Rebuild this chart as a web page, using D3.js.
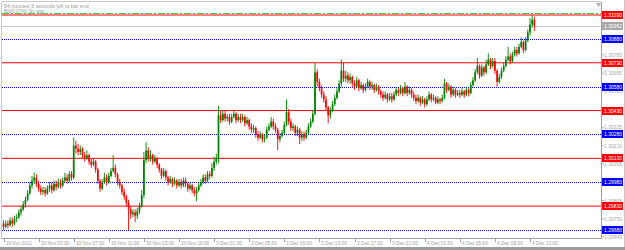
<!DOCTYPE html>
<html><head><meta charset="utf-8">
<script src="https://cdn.jsdelivr.net/npm/d3@7"></script>
<style>html,body{margin:0;padding:0;background:#fff;}svg{display:block;font-family:"Liberation Sans","DejaVu Sans",sans-serif;}</style>
</head><body><svg id="c" width="625" height="250"></svg>
<script>
// ---- data ----
const timeLabels = ["29 Nov 2012","30 Nov 03:00","30 Nov 07:00","30 Nov 11:00","30 Nov 15:00","30 Nov 19:00","3 Dec 01:00","3 Dec 05:00","3 Dec 09:00","3 Dec 13:00","3 Dec 17:00","3 Dec 21:00","4 Dec 01:00","4 Dec 05:00","4 Dec 09:00","4 Dec 13:00"];
const barsPerLabel = 16;
const opens = [
1.2972,1.2970,1.2972,1.2971,1.2974,1.2972,1.2975,1.2976,1.2979,1.2981,1.2984,1.2987,1.2991,1.2996,1.2999,1.3001,
1.2997,1.2994,1.2992,1.2993,1.2991,1.2994,1.2996,1.2993,1.2997,1.2995,1.2998,1.2996,1.2999,1.3001,1.2999,1.3003,
1.3001,1.3021,1.3019,1.3017,1.3019,1.3015,1.3013,1.3015,1.3011,1.3009,1.3011,1.3006,1.2999,1.2994,1.2998,1.3001,
1.2998,1.3002,1.3005,1.3007,1.3003,1.2998,1.2996,1.2992,1.2989,1.2985,1.2981,1.2978,1.2979,1.2977,1.2980,1.2983,
1.2990,1.3012,1.3018,1.3013,1.3015,1.3011,1.3013,1.3009,1.3006,1.3002,1.3005,1.3001,1.2998,1.3000,1.2997,1.2999,
1.2996,1.2998,1.2996,1.2999,1.2997,1.2994,1.2996,1.2993,1.2991,1.2993,1.2996,1.2998,1.3001,1.2999,1.3003,1.3002,
1.3007,1.3011,1.3013,1.3040,1.3037,1.3041,1.3038,1.3039,1.3036,1.3039,1.3041,1.3037,1.3039,1.3037,1.3039,1.3035,
1.3037,1.3033,1.3031,1.3032,1.3028,1.3026,1.3028,1.3025,1.3026,1.3031,1.3033,1.3036,1.3033,1.3031,1.3025,1.3027,
1.3029,1.3034,1.3042,1.3036,1.3032,1.3033,1.3029,1.3031,1.3026,1.3028,1.3026,1.3029,1.3033,1.3036,1.3041,1.3067,
1.3061,1.3057,1.3053,1.3050,1.3045,1.3040,1.3043,1.3047,1.3051,1.3055,1.3060,1.3068,1.3063,1.3065,1.3062,1.3064,
1.3060,1.3058,1.3062,1.3057,1.3059,1.3056,1.3058,1.3061,1.3058,1.3059,1.3056,1.3058,1.3055,1.3053,1.3051,1.3053,
1.3050,1.3052,1.3050,1.3053,1.3056,1.3054,1.3057,1.3054,1.3058,1.3054,1.3056,1.3053,1.3051,1.3049,1.3051,1.3048,
1.3050,1.3047,1.3050,1.3053,1.3050,1.3051,1.3048,1.3050,1.3049,1.3051,1.3060,1.3056,1.3058,1.3053,1.3056,1.3053,
1.3054,1.3053,1.3055,1.3053,1.3056,1.3054,1.3059,1.3062,1.3067,1.3071,1.3065,1.3070,1.3067,1.3072,1.3075,1.3071,
1.3074,1.3068,1.3061,1.3064,1.3068,1.3071,1.3075,1.3077,1.3074,1.3078,1.3081,1.3079,1.3083,1.3086,1.3081,1.3087,
1.3092,1.3097,1.3100];
const highs = [
1.2974,1.2974,1.2974,1.2976,1.2976,1.2977,1.2978,1.2981,1.2983,1.2986,1.2989,1.2993,1.2998,1.3002,1.3004,1.3003,
1.2999,1.2996,1.2995,1.2995,1.2996,1.2998,1.2998,1.2999,1.2999,1.3000,1.3000,1.3001,1.3004,1.3003,1.3005,1.3005,
1.3026,1.3024,1.3022,1.3021,1.3020,1.3017,1.3018,1.3016,1.3013,1.3013,1.3012,1.3007,1.3000,1.3000,1.3004,1.3003,
1.3004,1.3007,1.3015,1.3009,1.3004,1.3000,1.2997,1.2994,1.2990,1.2987,1.2983,1.2981,1.2981,1.2982,1.2985,1.2993,
1.3017,1.3023,1.3020,1.3018,1.3016,1.3015,1.3014,1.3010,1.3007,1.3007,1.3006,1.3002,1.3002,1.3001,1.3001,1.3000,
1.3000,1.3000,1.3001,1.3001,1.2998,1.2998,1.2997,1.2995,1.2995,1.2998,1.3000,1.3003,1.3003,1.3005,1.3005,1.3010,
1.3014,1.3016,1.3046,1.3043,1.3043,1.3043,1.3041,1.3041,1.3041,1.3043,1.3042,1.3041,1.3041,1.3041,1.3040,1.3039,
1.3038,1.3035,1.3034,1.3033,1.3030,1.3030,1.3029,1.3028,1.3033,1.3035,1.3039,1.3038,1.3035,1.3032,1.3029,1.3031,
1.3036,1.3050,1.3044,1.3038,1.3035,1.3034,1.3033,1.3032,1.3030,1.3030,1.3031,1.3035,1.3038,1.3043,1.3073,1.3069,
1.3063,1.3059,1.3055,1.3052,1.3046,1.3045,1.3049,1.3053,1.3057,1.3062,1.3075,1.3073,1.3068,1.3067,1.3066,1.3065,
1.3062,1.3064,1.3063,1.3061,1.3060,1.3060,1.3063,1.3062,1.3061,1.3060,1.3060,1.3059,1.3056,1.3055,1.3055,1.3054,
1.3054,1.3054,1.3055,1.3058,1.3057,1.3059,1.3058,1.3061,1.3059,1.3058,1.3057,1.3055,1.3053,1.3053,1.3052,1.3052,
1.3051,1.3052,1.3055,1.3054,1.3053,1.3052,1.3052,1.3051,1.3053,1.3063,1.3061,1.3060,1.3059,1.3058,1.3057,1.3056,
1.3056,1.3057,1.3056,1.3058,1.3057,1.3061,1.3064,1.3069,1.3076,1.3072,1.3072,1.3071,1.3075,1.3079,1.3076,1.3076,
1.3076,1.3069,1.3066,1.3070,1.3073,1.3077,1.3083,1.3079,1.3080,1.3083,1.3083,1.3085,1.3089,1.3087,1.3089,1.3094,
1.3101,1.3103,1.3102];
const lows = [
1.2968,1.2969,1.2969,1.2970,1.2970,1.2971,1.2973,1.2975,1.2977,1.2980,1.2982,1.2986,1.2990,1.2994,1.2997,1.2995,
1.2992,1.2990,1.2990,1.2989,1.2990,1.2992,1.2991,1.2992,1.2993,1.2994,1.2994,1.2995,1.2998,1.2997,1.2998,1.2999,
1.3000,1.3016,1.3015,1.3015,1.3013,1.3011,1.3012,1.3009,1.3007,1.3008,1.3004,1.2997,1.2992,1.2993,1.2997,1.2996,
1.2997,1.3001,1.3004,1.3001,1.2996,1.2994,1.2990,1.2987,1.2983,1.2968,1.2975,1.2976,1.2973,1.2975,1.2978,1.2982,
1.2988,1.3010,1.3011,1.3011,1.3009,1.3010,1.3007,1.3004,1.3000,1.3001,1.2999,1.2996,1.2997,1.2995,1.2996,1.2994,
1.2995,1.2994,1.2995,1.2995,1.2992,1.2993,1.2991,1.2989,1.2986,1.2992,1.2995,1.2997,1.2997,1.2998,1.3000,1.3001,
1.3005,1.3009,1.3010,1.3035,1.3036,1.3036,1.3036,1.3034,1.3035,1.3038,1.3035,1.3036,1.3035,1.3036,1.3033,1.3034,
1.3031,1.3029,1.3029,1.3026,1.3024,1.3025,1.3023,1.3023,1.3025,1.3030,1.3032,1.3031,1.3029,1.3018,1.3023,1.3026,
1.3028,1.3033,1.3034,1.3030,1.3030,1.3027,1.3027,1.3022,1.3024,1.3024,1.3025,1.3028,1.3032,1.3035,1.3040,1.3058,
1.3055,1.3051,1.3048,1.3043,1.3035,1.3038,1.3042,1.3046,1.3050,1.3054,1.3058,1.3061,1.3061,1.3060,1.3060,1.3058,
1.3056,1.3057,1.3055,1.3056,1.3054,1.3055,1.3057,1.3056,1.3056,1.3054,1.3055,1.3053,1.3051,1.3049,1.3050,1.3048,
1.3049,1.3048,1.3049,1.3052,1.3052,1.3053,1.3052,1.3053,1.3052,1.3053,1.3051,1.3049,1.3047,1.3048,1.3046,1.3047,
1.3045,1.3046,1.3049,1.3048,1.3049,1.3047,1.3047,1.3047,1.3048,1.3050,1.3054,1.3055,1.3051,1.3052,1.3051,1.3052,
1.3051,1.3052,1.3051,1.3052,1.3052,1.3053,1.3058,1.3061,1.3066,1.3063,1.3064,1.3065,1.3066,1.3071,1.3069,1.3070,
1.3066,1.3058,1.3060,1.3063,1.3067,1.3070,1.3074,1.3072,1.3073,1.3077,1.3077,1.3078,1.3082,1.3079,1.3080,1.3086,
1.3090,1.3095,1.3093];
const closes = [
1.2970,1.2972,1.2971,1.2974,1.2972,1.2975,1.2976,1.2979,1.2981,1.2984,1.2987,1.2991,1.2996,1.2999,1.3001,1.2997,
1.2994,1.2992,1.2993,1.2991,1.2994,1.2996,1.2993,1.2997,1.2995,1.2998,1.2996,1.2999,1.3001,1.2999,1.3003,1.3001,
1.3021,1.3019,1.3017,1.3019,1.3015,1.3013,1.3015,1.3011,1.3009,1.3011,1.3006,1.2999,1.2994,1.2998,1.3001,1.2998,
1.3002,1.3005,1.3007,1.3003,1.2998,1.2996,1.2992,1.2989,1.2985,1.2981,1.2978,1.2979,1.2977,1.2980,1.2983,1.2990,
1.3012,1.3018,1.3013,1.3015,1.3011,1.3013,1.3009,1.3006,1.3002,1.3005,1.3001,1.2998,1.3000,1.2997,1.2999,1.2996,
1.2998,1.2996,1.2999,1.2997,1.2994,1.2996,1.2993,1.2991,1.2993,1.2996,1.2998,1.3001,1.2999,1.3003,1.3002,1.3007,
1.3011,1.3013,1.3040,1.3037,1.3041,1.3038,1.3039,1.3036,1.3039,1.3041,1.3037,1.3039,1.3037,1.3039,1.3035,1.3037,
1.3033,1.3031,1.3032,1.3028,1.3026,1.3028,1.3025,1.3026,1.3031,1.3033,1.3036,1.3033,1.3031,1.3025,1.3027,1.3029,
1.3034,1.3042,1.3036,1.3032,1.3033,1.3029,1.3031,1.3026,1.3028,1.3026,1.3029,1.3033,1.3036,1.3041,1.3067,1.3061,
1.3057,1.3053,1.3050,1.3045,1.3040,1.3043,1.3047,1.3051,1.3055,1.3060,1.3068,1.3063,1.3065,1.3062,1.3064,1.3060,
1.3058,1.3062,1.3057,1.3059,1.3056,1.3058,1.3061,1.3058,1.3059,1.3056,1.3058,1.3055,1.3053,1.3051,1.3053,1.3050,
1.3052,1.3050,1.3053,1.3056,1.3054,1.3057,1.3054,1.3058,1.3054,1.3056,1.3053,1.3051,1.3049,1.3051,1.3048,1.3050,
1.3047,1.3050,1.3053,1.3050,1.3051,1.3048,1.3050,1.3049,1.3051,1.3060,1.3056,1.3058,1.3053,1.3056,1.3053,1.3054,
1.3053,1.3055,1.3053,1.3056,1.3054,1.3059,1.3062,1.3067,1.3071,1.3065,1.3070,1.3067,1.3072,1.3075,1.3071,1.3074,
1.3068,1.3061,1.3064,1.3068,1.3071,1.3075,1.3077,1.3074,1.3078,1.3081,1.3079,1.3083,1.3086,1.3081,1.3087,1.3092,
1.3097,1.3100,1.30962];
const redLevels = [1.31030, 1.30730, 1.30430, 1.30130, 1.29830];
const blueLevels = [1.30880, 1.30580, 1.30280, 1.29980, 1.29680];
const greenLevel = 1.31043;
const bidPrice = 1.30962;
const priceTicks = [1.30780, 1.30665, 1.30555, 1.30325, 1.30210, 1.30095, 1.29865, 1.29750, 1.29640];
const infoLines = ["54 minutes 5 seconds left to bar end", "Bid(0.07%) 3m ago"];

// ---- drawing ----
const svg = d3.select("#c");
const W = 625, H = 250;
const plotL = 2, plotR = 601, plotT = 2, plotB = 238;
const y = d3.scaleLinear().domain([1.29680, 1.31030]).range([230, 15]);
const x = d3.scaleLinear().domain([0, 240]).range([3.5, 530]);
const charW = 2.35; // compressed text width per character

svg.append("rect").attr("width", W).attr("height", H).attr("fill", "#fff");
const clip = svg.append("defs").append("clipPath").attr("id", "pc");
clip.append("rect").attr("x", plotL).attr("y", plotT).attr("width", plotR - plotL).attr("height", plotB - plotT);

const g = svg.append("g").attr("clip-path", "url(#pc)");

// level lines
g.selectAll(".red").data(redLevels).join("line")
  .attr("x1", plotL).attr("x2", plotR).attr("y1", d => y(d)).attr("y2", d => y(d))
  .attr("stroke", "#ff0000").attr("stroke-width", 1);
g.selectAll(".blue").data(blueLevels).join("line")
  .attr("x1", plotL).attr("x2", plotR).attr("y1", d => Math.round(y(d)) + 0.5).attr("y2", d => Math.round(y(d)) + 0.5)
  .attr("stroke", "#0000ff").attr("stroke-width", 1).attr("stroke-dasharray", "1,1");
g.append("line").attr("x1", plotL).attr("x2", plotR).attr("y1", Math.round(y(greenLevel)) + 0.5).attr("y2", Math.round(y(greenLevel)) + 0.5)
  .attr("stroke", "#3cd23c").attr("stroke-width", 1).attr("stroke-dasharray", "7,2,2,2");
g.append("line").attr("x1", plotL).attr("x2", plotR).attr("y1", Math.round(y(bidPrice)) + 0.5).attr("y2", Math.round(y(bidPrice)) + 0.5)
  .attr("stroke", "#c8c8c8").attr("stroke-width", 1);

// candles
const bars = closes.map((c, i) => ({i, o: opens[i], h: highs[i], l: lows[i], c}));
const col = d => d.c >= d.o ? "#008000" : "#ff0000";
g.selectAll(".wick").data(bars).join("line")
  .attr("x1", d => x(d.i)).attr("x2", d => x(d.i))
  .attr("y1", d => y(d.h)).attr("y2", d => y(d.l))
  .attr("stroke", col).attr("stroke-width", 0.9);
g.selectAll(".body").data(bars).join("rect")
  .attr("x", d => x(d.i) - 0.85).attr("width", 1.7)
  .attr("y", d => y(Math.max(d.o, d.c)))
  .attr("height", d => Math.max(0.8, Math.abs(y(d.o) - y(d.c))))
  .attr("fill", col);

// info text
svg.selectAll(".info").data(infoLines).join("text")
  .attr("x", 4).attr("y", (d, k) => 7.5 + k * 5)
  .attr("font-size", 5.5).attr("fill", "#9a9a9a")
  .attr("textLength", d => d.length * charW).attr("lengthAdjust", "spacingAndGlyphs").text(d => d);

// frame
svg.append("line").attr("x1", plotR + 0.5).attr("x2", plotR + 0.5).attr("y1", plotT).attr("y2", plotB + 1).attr("stroke", "#a0a0a0");
svg.append("line").attr("x1", plotL).attr("x2", plotR + 1).attr("y1", plotB + 0.5).attr("y2", plotB + 0.5).attr("stroke", "#a0a0a0");
svg.append("line").attr("x1", plotL - 0.5).attr("x2", plotL - 0.5).attr("y1", plotT).attr("y2", plotB + 1).attr("stroke", "#c8c8c8");
svg.append("line").attr("x1", plotL).attr("x2", plotR).attr("y1", plotT - 0.5).attr("y2", plotT - 0.5).attr("stroke", "#c8c8c8");
svg.append("rect").attr("x", 0).attr("y", 247).attr("width", W).attr("height", 3).attr("fill", "#9c9c9c");
svg.append("line").attr("x1", 624.5).attr("x2", 624.5).attr("y1", 0).attr("y2", 247).attr("stroke", "#c8c8c8");
// shift marker
svg.append("path").attr("d", "M596,3 L601,3 L598.5,7 Z").attr("fill", "#b0b0b0");

// right price axis
const rA = svg.append("g");
const priceFmt = d => d.toFixed(5);
rA.selectAll(".pt").data(priceTicks).join("g").each(function(d) {
  const s = d3.select(this), yy = y(d);
  s.append("line").attr("x1", plotR + 1).attr("x2", plotR + 3).attr("y1", yy).attr("y2", yy).attr("stroke", "#b0b0b0");
  s.append("text").attr("x", 604).attr("y", yy + 2.2).attr("font-size", 6).attr("fill", "#a8a8a8")
    .attr("textLength", 18).attr("lengthAdjust", "spacingAndGlyphs").text(priceFmt(d));
});
const boxes = [
  ...redLevels.map(v => ({v, c: "#ff0000"})),
  ...blueLevels.map(v => ({v, c: "#0000ff"})),
  {v: bidPrice, c: "#a8a8a8"}
];
rA.selectAll(".bx").data(boxes).join("g").each(function(d) {
  const s = d3.select(this), yy = Math.round(y(d.v));
  s.append("rect").attr("x", 602).attr("y", yy - 4).attr("width", 21).attr("height", 8).attr("fill", d.c);
  s.append("text").attr("x", 604).attr("y", yy + 2.2).attr("font-size", 6).attr("fill", "#fff")
    .attr("textLength", 18).attr("lengthAdjust", "spacingAndGlyphs").text(priceFmt(d.v));
});

// bottom time axis
const bA = svg.append("g");
bA.selectAll(".tt").data(timeLabels).join("g").each(function(d, k) {
  const s = d3.select(this), xx = Math.round(x(k * barsPerLabel)) + 0.5;
  s.append("line").attr("x1", xx).attr("x2", xx).attr("y1", plotB + 1).attr("y2", plotB + 4).attr("stroke", "#a0a0a0");
  s.append("text").attr("x", xx + 1.5).attr("y", 245).attr("font-size", 6).attr("fill", "#a0a0a0")
    .attr("textLength", d.length * charW).attr("lengthAdjust", "spacingAndGlyphs").text(d);
});
</script></body></html>
